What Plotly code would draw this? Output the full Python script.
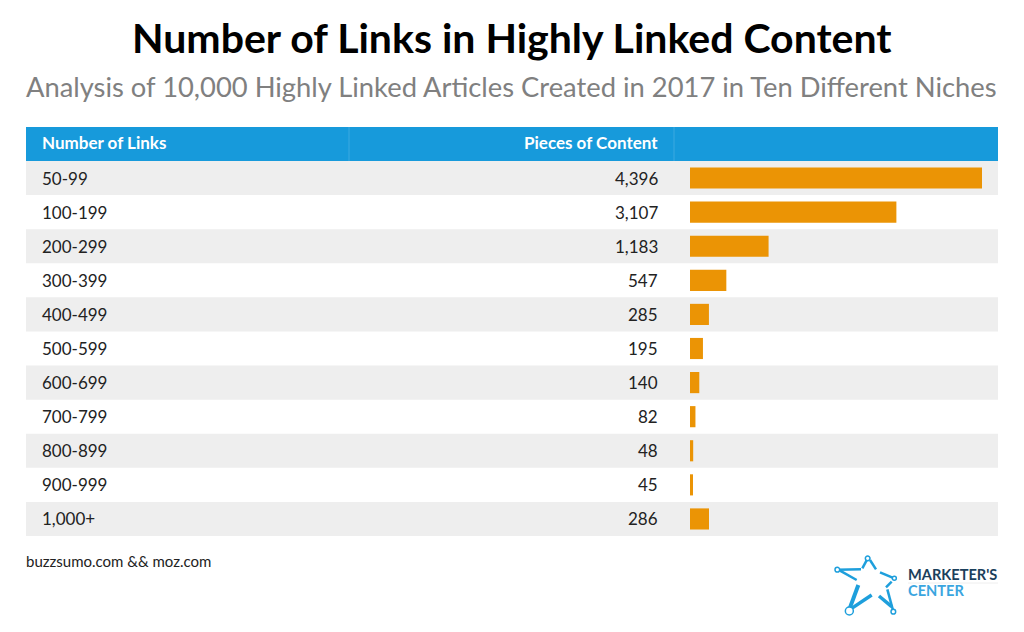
import plotly.graph_objects as go

categories = ["50-99", "100-199", "200-299", "300-399", "400-499", "500-599",
              "600-699", "700-799", "800-899", "900-999", "1,000+"]
values = [4396, 3107, 1183, 547, 285, 195, 140, 82, 48, 45, 286]
column_titles = ["Number of Links", "Pieces of Content"]
title = "Number of Links in Highly Linked Content"
subtitle = "Analysis of 10,000 Highly Linked Articles Created in 2017 in Ten Different Niches"
source = "buzzsumo.com && moz.com"

W, H = 1024, 632
FONT = "Lato"
px = lambda x: x / W
py = lambda y: 1 - y / H

fig = go.Figure(go.Bar(
    x=values, y=categories, orientation="h",
    marker=dict(color="#EB9405", line=dict(width=0)), width=0.62,
    hoverinfo="skip",
))

shapes = []
annotations = []

# header
shapes.append(dict(type="rect", xref="paper", yref="paper", x0=px(26), x1=px(998),
                   y0=py(161), y1=py(127), fillcolor="#179ADB", line_width=0, layer="below"))
for sx in (349, 674):
    shapes.append(dict(type="line", xref="paper", yref="paper", x0=px(sx), x1=px(sx),
                       y0=py(161), y1=py(127), line=dict(color="#3DA9E0", width=1), layer="below"))

# row bands and row text
for i, (c, v) in enumerate(zip(categories, values)):
    if i % 2 == 0:
        shapes.append(dict(type="rect", xref="paper", yref="y", x0=px(26), x1=px(998),
                           y0=i - 0.5, y1=i + 0.5, fillcolor="#EEEEEE", line_width=0, layer="below"))
    annotations.append(dict(xref="paper", yref="y", x=px(40), y=c, text=c, showarrow=False,
                            xanchor="left", font=dict(family=FONT, size=17, color="#222222")))
    annotations.append(dict(xref="paper", yref="y", x=px(660), y=c, text=f"{v:,}", showarrow=False,
                            xanchor="right", font=dict(family=FONT, size=17, color="#222222")))

def text(x, y, s, size, color, anchor="center", bold=False):
    annotations.append(dict(xref="paper", yref="paper", x=px(x), y=py(y), showarrow=False,
                            text=f"<b>{s}</b>" if bold else s, xanchor=anchor, yanchor="middle",
                            font=dict(family=FONT, size=size, color=color)))

text(511.5, 38, title, 41, "#000000", bold=True)
text(511.5, 86, subtitle, 27.35, "#808080")
text(40, 142.5, column_titles[0], 17, "#FFFFFF", "left", True)
text(660, 142.5, column_titles[1], 17, "#FFFFFF", "right", True)
text(24, 560.5, source, 15, "#222222", "left")

# logo
LOGO = "#1E9FDC"
zx = lambda x: px(800 + x / 3)
zy = lambda y: py(540 + y / 3)
for (a, b, c, d, w) in [(112, 89, 183, 88, 2.5), (120, 92, 170, 120, 2.5), (203, 55, 187, 85, 2.5),
                        (210, 60, 228, 88, 2.5), (240, 97, 283, 115, 2.5), (275, 125, 258, 142, 2.5),
                        (262, 148, 280, 215, 2.5), (237, 168, 275, 200, 3.5), (155, 205, 215, 165, 3.5),
                        (175, 135, 150, 203, 4)]:
    shapes.append(dict(type="line", xref="paper", yref="paper", x0=zx(a), y0=zy(b), x1=zx(c), y1=zy(d),
                       line=dict(color=LOGO, width=w)))
for (a, b, r) in [(112, 89, 7), (203, 55, 7), (283, 115, 6), (280, 215, 7), (148, 213, 12)]:
    shapes.append(dict(type="circle", xref="paper", yref="paper", x0=zx(a - r), x1=zx(a + r),
                       y0=zy(b + r), y1=zy(b - r), fillcolor="white", line=dict(color=LOGO, width=1.5)))
text(906, 574, "MARKETER'S", 14.6, "#1B3F5C", "left", True)
text(906, 590.5, "CENTER", 14.6, "#3AA5DF", "left", True)
shapes.append(dict(type="line", xref="paper", yref="paper", x0=px(908), x1=px(998), y0=py(583), y1=py(583),
                   line=dict(color="#EEEEEE", width=1)))

fig.update_layout(
    width=W, height=H, margin=dict(l=0, r=0, t=0, b=0),
    paper_bgcolor="white", plot_bgcolor="rgba(0,0,0,0)", showlegend=False,
    shapes=shapes, annotations=annotations,
    xaxis=dict(domain=[px(690), px(982)], range=[0, 4396], visible=False, fixedrange=True),
    yaxis=dict(domain=[py(536), py(161)], autorange=False, range=[10.5, -0.5], type="category",
               categoryorder="array", categoryarray=categories, visible=False, fixedrange=True),
)
fig.write_html("out.html", config=dict(displayModeBar=False),
               post_script="document.body.style.margin='0';")
